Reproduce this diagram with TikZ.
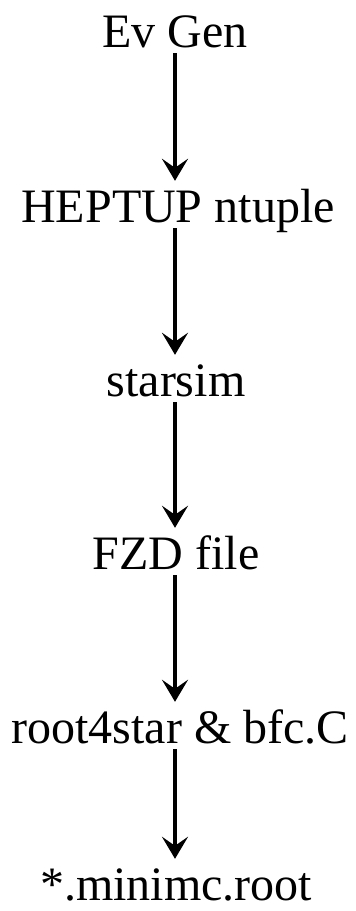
\documentclass[tikz,border=0pt]{standalone}
\usepackage{fontspec}
\setmainfont{Liberation Serif}
\usetikzlibrary{arrows.meta}
\tikzset{
  lbl/.style={font=\fontsize{48}{50}\selectfont, inner sep=0pt, text height=32pt, text depth=2pt},
  flow/.style={line width=4.5pt, -{Stealth[length=22pt,width=26pt,inset=9pt]}, shorten <=4pt, shorten >=9pt}
}
\begin{document}
\begin{tikzpicture}[x=1pt,y=-1pt]
\useasboundingbox (0,0) rectangle (356,911);
\node[lbl] (ev) at (175,32) {Ev Gen};
\node[lbl] (hep) at (178,207) {HEPTUP ntuple};
\node[lbl] (star) at (176,381) {starsim};
\node[lbl] (fzd) at (176,554) {FZD file};
\node[lbl] (r4s) at (180,728) {root4star \& bfc.C};
\node[lbl] (mini) at (176,885) {*.minimc.root};
\draw[flow] (ev.south -| 175,0) -- (hep.north -| 175,0);
\draw[flow] (hep.south -| 175,0) -- (star.north -| 175,0);
\draw[flow] (star.south -| 175,0) -- (fzd.north -| 175,0);
\draw[flow] (fzd.south -| 175,0) -- (r4s.north -| 175,0);
\draw[flow] (r4s.south -| 175,0) -- (mini.north -| 175,0);
\end{tikzpicture}
\end{document}
